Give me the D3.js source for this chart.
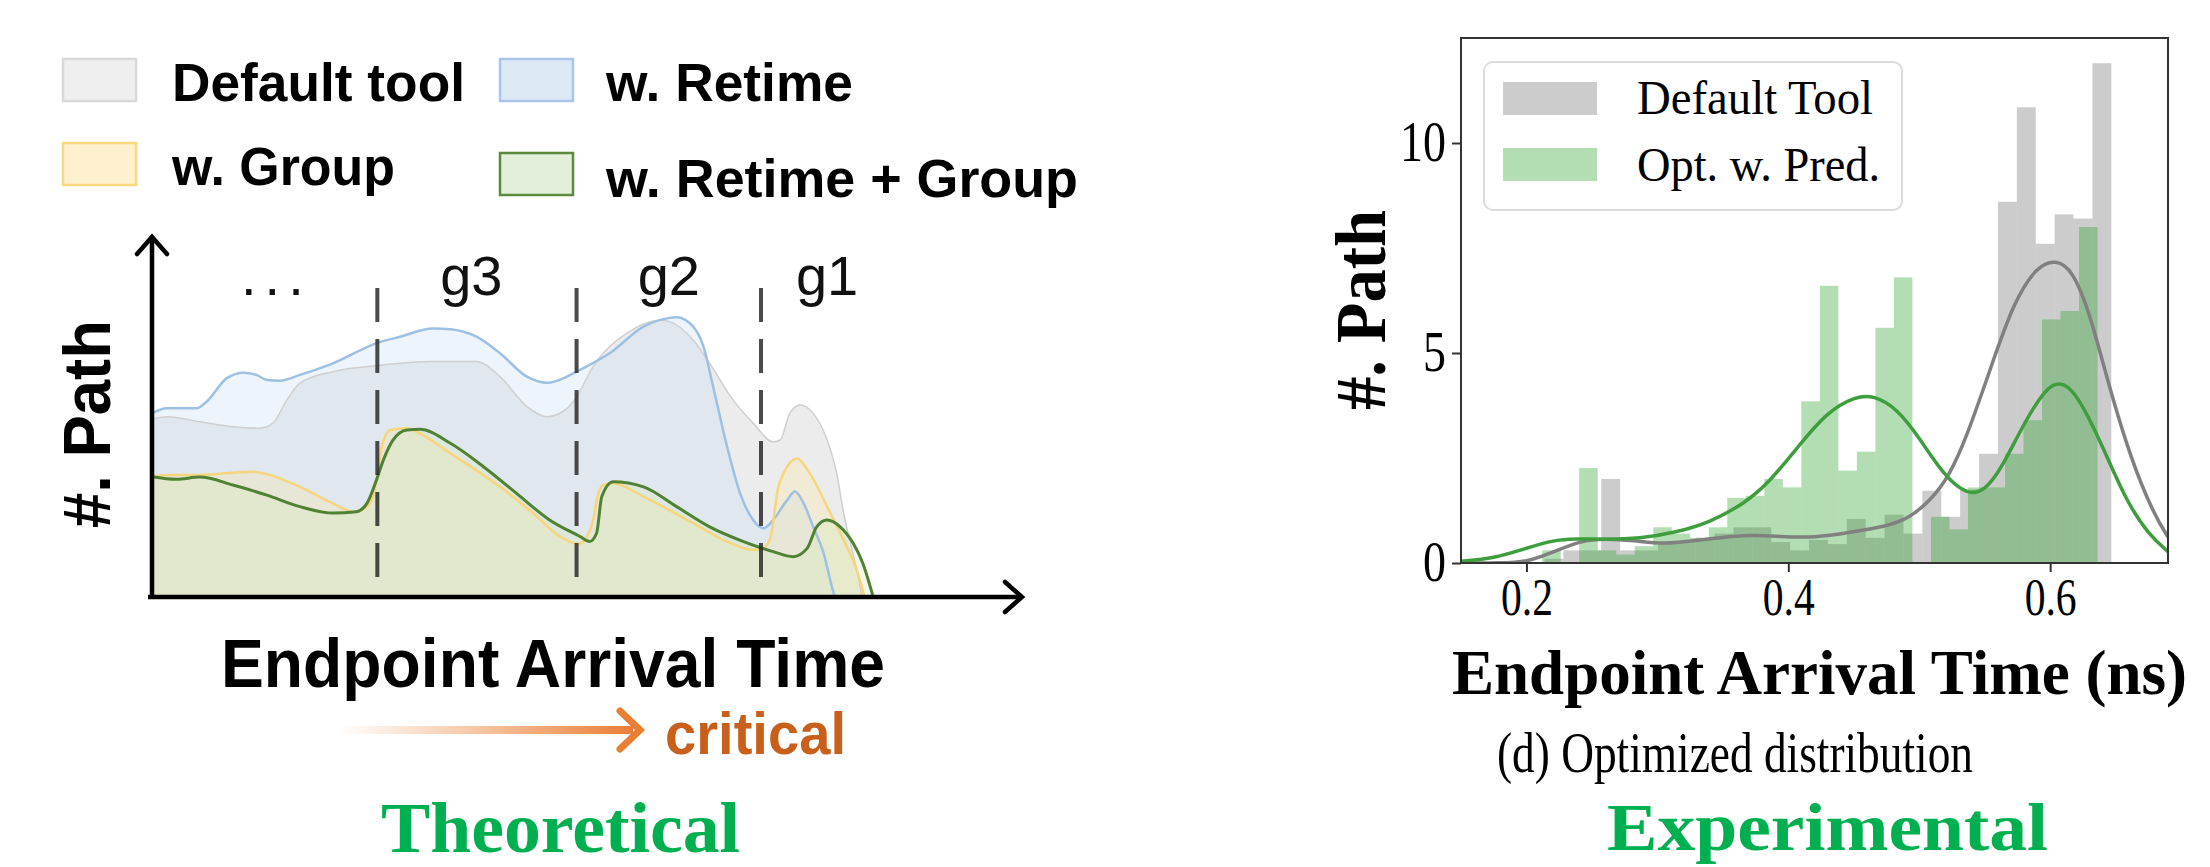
<!DOCTYPE html>
<html>
<head>
<meta charset="utf-8">
<script src="https://cdn.jsdelivr.net/npm/d3@7/dist/d3.min.js"></script>
<style>
  body { margin: 0; background: #fff; }
</style>
</head>
<body>
<div id="chart"></div>
<script>
// ---------- left panel (theoretical sketch), x: arrival time, y: #paths ----------
const defaultTool = [[0,49.4],[1.7,50.1],[5.5,48.7],[9.3,47.3],[12.4,46.9],[13.9,48.3],[15.5,54.7],[17.0,59.4],[20.8,62.6],[25.9,64.3],[32.3,65.4],[37.3,65.4],[40.0,61.2],[43.1,52.9],[45.4,50.1],[47.7,52.4],[48.8,55.6],[50.7,64.0],[54.6,73.3],[58.4,76.9],[59.5,76.5],[62.2,71.4],[64.1,64.9],[66.8,54.7],[69.1,48.3],[71.4,43.1],[72.2,43.6],[73.3,51.0],[74.5,53.3],[76.0,51.0],[77.6,43.6],[78.7,34.4],[79.5,23.3],[80.2,15.8],[81.4,2.8],[81.6,0]];
const withRetime = [[0,51.0],[1.7,52.4],[5.1,52.4],[6.3,54.3],[8.6,60.8],[10.5,62.3],[12.0,61.7],[13.2,60.3],[14.7,60.1],[17.0,61.7],[20.8,64.9],[25.9,70.6],[28.5,72.3],[32.3,74.6],[34.3,74.4],[37.3,72.3],[40.0,67.7],[43.1,61.2],[45.4,59.5],[47.7,61.2],[48.8,62.6],[52.6,67.7],[56.5,75.1],[59.2,77.4],[60.3,77.7],[62.2,75.1],[63.4,69.5],[64.5,58.4],[66.1,41.8],[67.6,28.8],[69.1,21.4],[70.3,19.1],[71.4,21.4],[73.0,26.9],[73.9,29.3],[74.9,26.0],[76.0,19.5],[77.2,12.1],[78.3,1.5],[78.5,0]];
const withGroup = [[0,33.4],[1.7,33.9],[5.5,33.9],[11.3,34.8],[17.0,30.6],[20.8,26.0],[23.1,23.7],[24.7,25.1],[25.9,33.4],[26.4,41.8],[27.4,46.4],[29.3,46.9],[30.4,45.9],[34.3,39.9],[40.0,30.6],[43.8,23.3],[46.9,16.8],[49.0,14.8],[50.0,16.8],[50.7,21.4],[51.3,28.8],[51.9,31.1],[53.0,31.6],[56.5,27.9],[62.2,20.5],[66.1,15.4],[69.1,13.1],[69.9,13.1],[71.0,15.8],[72.0,30.6],[72.6,34.4],[74.1,38.5],[75.6,34.4],[77.6,25.1],[79.5,15.8],[81.0,7.5],[81.9,0]];
const withRetimeGroup = [[0,33.4],[2.8,32.7],[5.5,33.3],[9.3,31.1],[13.2,28.3],[17.0,25.1],[20.8,23.3],[23.5,23.7],[24.7,26.0],[25.8,32.5],[26.6,38.1],[27.7,43.6],[29.3,46.4],[30.8,46.6],[34.3,42.7],[38.1,36.2],[41.9,28.8],[45.7,21.4],[49.2,16.8],[50.3,15.4],[51.1,17.7],[51.7,27.9],[53.0,32.0],[56.5,30.6],[60.3,25.1],[64.1,19.5],[68.0,15.4],[71.4,12.6],[73.7,11.2],[75.3,13.5],[76.4,19.5],[77.6,21.4],[79.1,19.5],[80.6,14.9],[81.7,9.4],[82.9,0]];
const groupBounds = [25.9, 48.8, 70.0];
const groupLabels = ["...", "g3", "g2", "g1"];
const groupLabelX = [14.3, 36.7, 59.4, 77.6];
const sketchLegend = ["Default tool", "w. Retime", "w. Group", "w. Retime + Group"];

// ---------- right panel (experimental histogram + kde) ----------
const defaultBinStart = 0.2138, defaultBinWidth = 0.01443;
const defaultCounts = [0.1,0.3,0.3,2.0,0.3,0.3,0.5,0.5,0.6,0.7,0.85,0.85,0.5,0.3,0.55,0.45,1.05,0.6,1.15,0.7,1.72,1.1,1.75,2.6,8.6,10.85,7.6,8.3,8.2,11.9];
const optBinStart = 0.2120, optBinWidth = 0.01414;
const optCounts = [0.3,0,2.26,0.3,0.2,0.4,0.85,0.7,0.6,0.85,1.55,1.6,2.0,1.8,3.85,6.6,2.2,2.65,5.6,6.8,0,1.1,0.8,1.8,1.8,2.6,3.4,5.8,6.0,8.0];
const kdeDefault = [[0.15,0],[0.18,0],[0.2,0.02],[0.2196,0.25],[0.242,0.54],[0.26,0.58],[0.2821,0.54],[0.3045,0.44],[0.3312,0.54],[0.367,0.68],[0.3937,0.63],[0.4205,0.60],[0.4473,0.73],[0.4741,0.87],[0.492,1.05],[0.5098,1.53],[0.5232,2.09],[0.5366,3.03],[0.5544,4.63],[0.5723,6.23],[0.5902,7.08],[0.6044,7.22],[0.6169,6.99],[0.6303,5.95],[0.6437,4.35],[0.6616,2.47],[0.6794,1.15],[0.69,0.62]];
const kdeOpt = [[0.15,0.04],[0.175,0.11],[0.2,0.35],[0.2196,0.54],[0.2375,0.58],[0.26,0.56],[0.2866,0.58],[0.313,0.72],[0.34,0.96],[0.367,1.43],[0.3848,1.9],[0.407,2.75],[0.4295,3.6],[0.4518,3.97],[0.465,3.99],[0.483,3.69],[0.501,2.94],[0.5187,2.09],[0.5366,1.62],[0.55,1.71],[0.5634,2.28],[0.5812,3.41],[0.599,4.26],[0.6102,4.30],[0.6214,3.97],[0.6393,2.84],[0.6571,1.53],[0.675,0.68],[0.69,0.27]];
const xTicks = [0.2, 0.4, 0.6];
const yTicks = [0, 5, 10];
const histLegend = ["Default Tool", "Opt. w. Pred."];

const svg = d3.select("#chart").append("svg")
    .attr("width", 2210)
    .attr("height", 867)
    .style("font-family", "'Liberation Sans', Arial, sans-serif");

svg.append("rect").attr("width", 2210).attr("height", 867).attr("fill", "#fff");

// squeeze a text horizontally, the reference figure is narrower than the fonts
function squeeze(sel, factor) {
    sel.each(function () {
        const w = this.getComputedTextLength();
        d3.select(this).attr("textLength", w * factor).attr("lengthAdjust", "spacingAndGlyphs");
    });
}

// ================= LEFT PANEL =================
const xL = d3.scaleLinear().domain([0, 100]).range([152, 1022]);
const yL = d3.scaleLinear().domain([0, 100]).range([597, 237]);

const area = d3.area()
    .x(d => xL(d[0]))
    .y0(yL(0))
    .y1(d => yL(d[1]))
    .curve(d3.curveMonotoneX);
const line = d3.line()
    .x(d => xL(d[0]))
    .y(d => yL(d[1]))
    .curve(d3.curveMonotoneX);

const sketchSeries = [
    { data: defaultTool, fill: "#ececed", fillOp: 1, stroke: "#cfcfcf", sw: 1.5 },
    { data: withRetime, fill: "#c8dcf5", fillOp: 0.3, stroke: "#9dc0e3", sw: 2.5 },
    { data: withGroup, fill: "#ffe28a", fillOp: 0.25, stroke: "#f6d57c", sw: 2.5 },
    { data: withRetimeGroup, fill: "#d6ebbd", fillOp: 0.35, stroke: "#4f8233", sw: 3 }
];

const sk = svg.append("g");
sketchSeries.forEach(s => {
    sk.append("path").attr("d", area(s.data)).attr("fill", s.fill).attr("fill-opacity", s.fillOp);
});
sketchSeries.forEach(s => {
    sk.append("path").attr("d", line(s.data)).attr("fill", "none")
        .attr("stroke", s.stroke).attr("stroke-width", s.sw);
});

// group boundaries
sk.selectAll(".gb").data(groupBounds).enter().append("line")
    .attr("x1", d => xL(d)).attr("x2", d => xL(d))
    .attr("y1", yL(85.8)).attr("y2", yL(3.3))
    .attr("stroke", "#2b2b2b").attr("stroke-opacity", 0.85)
    .attr("stroke-width", 4).attr("stroke-dasharray", "34,17");

sk.selectAll(".gl").data(groupLabels).enter().append("text")
    .attr("x", (d, i) => xL(groupLabelX[i]))
    .attr("y", yL(84))
    .attr("text-anchor", "middle")
    .attr("font-size", 56)
    .attr("letter-spacing", (d, i) => i === 0 ? 8 : 0)
    .attr("fill", "#111")
    .text(d => d);

// axes with arrows
sk.append("line").attr("x1", xL(0)).attr("x2", xL(0)).attr("y1", yL(0) + 2).attr("y2", yL(100))
    .attr("stroke", "#000").attr("stroke-width", 4.5);
sk.append("line").attr("x1", xL(0) - 4).attr("x2", xL(100)).attr("y1", yL(0)).attr("y2", yL(0))
    .attr("stroke", "#000").attr("stroke-width", 4.5);
sk.append("path")
    .attr("d", `M${xL(0) - 15},${yL(100) + 17} L${xL(0)},${yL(100)} L${xL(0) + 15},${yL(100) + 17}`)
    .attr("fill", "none").attr("stroke", "#000").attr("stroke-width", 4.5).attr("stroke-linecap", "round");
sk.append("path")
    .attr("d", `M${xL(100) - 17},${yL(0) - 15} L${xL(100)},${yL(0)} L${xL(100) - 17},${yL(0) + 15}`)
    .attr("fill", "none").attr("stroke", "#000").attr("stroke-width", 4.5).attr("stroke-linecap", "round");

sk.append("text")
    .attr("transform", `translate(110,424) rotate(-90)`)
    .attr("text-anchor", "middle")
    .attr("font-size", 66).attr("font-weight", "bold")
    .attr("textLength", 208).attr("lengthAdjust", "spacingAndGlyphs")
    .text("#. Path");

sk.append("text")
    .attr("x", 221).attr("y", 687)
    .attr("font-size", 68).attr("font-weight", "bold")
    .attr("textLength", 664).attr("lengthAdjust", "spacingAndGlyphs")
    .text("Endpoint Arrival Time");

// legend
const legFill = [["#efefef", "#d9d9d9"], ["#dde8f5", "#a9c6e8"], ["#fff1cf", "#f8d77e"], ["#e3efda", "#5b8a3c"]];
const legPos = [[63, 59, 172, 101, 293], [500, 59, 606, 101, 247], [63, 143, 172, 185, 223], [500, 153, 606, 197, 472]];
sketchLegend.forEach((t, i) => {
    const p = legPos[i];
    sk.append("rect").attr("x", p[0]).attr("y", p[1]).attr("width", 73).attr("height", 42)
        .attr("fill", legFill[i][0]).attr("stroke", legFill[i][1]).attr("stroke-width", 2.5);
    sk.append("text").attr("x", p[2]).attr("y", p[3])
        .attr("font-size", 54).attr("font-weight", "bold")
        .attr("textLength", p[4]).attr("lengthAdjust", "spacingAndGlyphs")
        .text(t);
});

// critical arrow
const defs = svg.append("defs");
const grad = defs.append("linearGradient").attr("id", "critGrad")
    .attr("x1", "0%").attr("x2", "100%").attr("y1", "0%").attr("y2", "0%");
grad.append("stop").attr("offset", "0%").attr("stop-color", "#ee8a45").attr("stop-opacity", 0);
grad.append("stop").attr("offset", "100%").attr("stop-color", "#ea7e35").attr("stop-opacity", 1);
sk.append("rect").attr("x", 338).attr("y", 726).attr("width", 295).attr("height", 8).attr("fill", "url(#critGrad)");
sk.append("path").attr("d", "M620,711 L640,730 L620,749")
    .attr("fill", "none").attr("stroke", "#ea7e35").attr("stroke-width", 7).attr("stroke-linecap", "round");
sk.append("text").attr("x", 665).attr("y", 754)
    .attr("font-size", 60).attr("font-weight", "bold").attr("fill", "#c8601c")
    .attr("textLength", 181).attr("lengthAdjust", "spacingAndGlyphs")
    .text("critical");

svg.append("text").attr("x", 381).attr("y", 852)
    .style("font-family", "'Liberation Serif', 'Times New Roman', serif")
    .attr("font-size", 72).attr("font-weight", "bold").attr("fill", "#00b050")
    .attr("textLength", 359).attr("lengthAdjust", "spacingAndGlyphs")
    .text("Theoretical");

// ================= RIGHT PANEL =================
const serif = "'Liberation Serif', 'Times New Roman', serif";
const xR = d3.scaleLinear().domain([0.15, 0.69]).range([1461, 2168]);
const yR = d3.scaleLinear().domain([0, 12.5]).range([563, 38]);

const hp = svg.append("g").style("font-family", serif);
hp.append("defs").append("clipPath").attr("id", "plotClip")
    .append("rect").attr("x", xR(0.15)).attr("y", yR(12.5)).attr("width", xR(0.69) - xR(0.15)).attr("height", yR(0) - yR(12.5));
const plot = hp.append("g").attr("clip-path", "url(#plotClip)");

plot.selectAll(".bd").data(defaultCounts).enter().append("rect")
    .attr("x", (d, i) => xR(defaultBinStart + i * defaultBinWidth))
    .attr("width", xR(defaultBinStart + defaultBinWidth) - xR(defaultBinStart))
    .attr("y", d => yR(d))
    .attr("height", d => yR(0) - yR(d))
    .attr("fill", "#808080").attr("fill-opacity", 0.4);

plot.selectAll(".bo").data(optCounts).enter().append("rect")
    .attr("x", (d, i) => xR(optBinStart + i * optBinWidth))
    .attr("width", xR(optBinStart + optBinWidth) - xR(optBinStart))
    .attr("y", d => yR(d))
    .attr("height", d => yR(0) - yR(d))
    .attr("fill", "#2ca02c").attr("fill-opacity", 0.36);

const kdeLine = d3.line().x(d => xR(d[0])).y(d => yR(d[1])).curve(d3.curveBasis);
plot.append("path").attr("d", kdeLine(kdeDefault)).attr("fill", "none")
    .attr("stroke", "#808080").attr("stroke-width", 3.5);
plot.append("path").attr("d", kdeLine(kdeOpt)).attr("fill", "none")
    .attr("stroke", "#3e9e3e").attr("stroke-width", 3.5);

// frame
hp.append("rect").attr("x", xR(0.15)).attr("y", yR(12.5))
    .attr("width", xR(0.69) - xR(0.15)).attr("height", yR(0) - yR(12.5))
    .attr("fill", "none").attr("stroke", "#333").attr("stroke-width", 2);

const xAxis = hp.append("g").attr("transform", `translate(0,${yR(0)})`)
    .call(d3.axisBottom(xR).tickValues(xTicks).tickSize(9).tickPadding(6).tickFormat(d3.format(".1f")));
const yAxis = hp.append("g").attr("transform", `translate(${xR(0.15)},0)`)
    .call(d3.axisLeft(yR).tickValues(yTicks).tickSize(9).tickPadding(6).tickFormat(d3.format("d")));
[xAxis, yAxis].forEach(a => {
    a.select(".domain").remove();
    a.selectAll("line").attr("stroke", "#333").attr("stroke-width", 2);
    a.selectAll("text").style("font-family", serif).attr("fill", "#000");
});
xAxis.selectAll("text").attr("font-size", 52).attr("dy", "0.72em");
yAxis.selectAll("text").attr("font-size", 56);
squeeze(xAxis.selectAll("text"), 0.8);
squeeze(yAxis.selectAll("text"), 0.82);

hp.append("text")
    .attr("transform", `translate(1385,310) rotate(-90)`)
    .attr("text-anchor", "middle")
    .attr("font-size", 72).attr("font-weight", "bold")
    .attr("textLength", 200).attr("lengthAdjust", "spacingAndGlyphs")
    .text("#. Path");

hp.append("text").attr("x", 1452).attr("y", 694)
    .attr("font-size", 63).attr("font-weight", "bold")
    .attr("textLength", 735).attr("lengthAdjust", "spacingAndGlyphs")
    .text("Endpoint Arrival Time (ns)");

hp.append("text").attr("x", 1497).attr("y", 772)
    .attr("font-size", 56)
    .attr("textLength", 476).attr("lengthAdjust", "spacingAndGlyphs")
    .text("(d) Optimized distribution");

hp.append("text").attr("x", 1607).attr("y", 850)
    .attr("font-size", 68).attr("font-weight", "bold").attr("fill", "#00b050")
    .attr("textLength", 441).attr("lengthAdjust", "spacingAndGlyphs")
    .text("Experimental");

// legend
const lg = hp.append("g");
lg.append("rect").attr("x", 1484).attr("y", 62).attr("width", 418).attr("height", 148)
    .attr("rx", 9).attr("fill", "#fff").attr("fill-opacity", 0.8)
    .attr("stroke", "#dcdcdc").attr("stroke-width", 2);
const legColors = [["#808080", 0.4], ["#2ca02c", 0.36]];
histLegend.forEach((t, i) => {
    lg.append("rect").attr("x", 1503).attr("y", 82 + i * 66).attr("width", 94).attr("height", 33)
        .attr("fill", legColors[i][0]).attr("fill-opacity", legColors[i][1]);
    lg.append("text").attr("x", 1637).attr("y", 114 + i * 67)
        .attr("font-size", 48)
        .attr("textLength", i === 0 ? 236 : 243).attr("lengthAdjust", "spacingAndGlyphs")
        .text(t);
});
</script>
</body>
</html>
